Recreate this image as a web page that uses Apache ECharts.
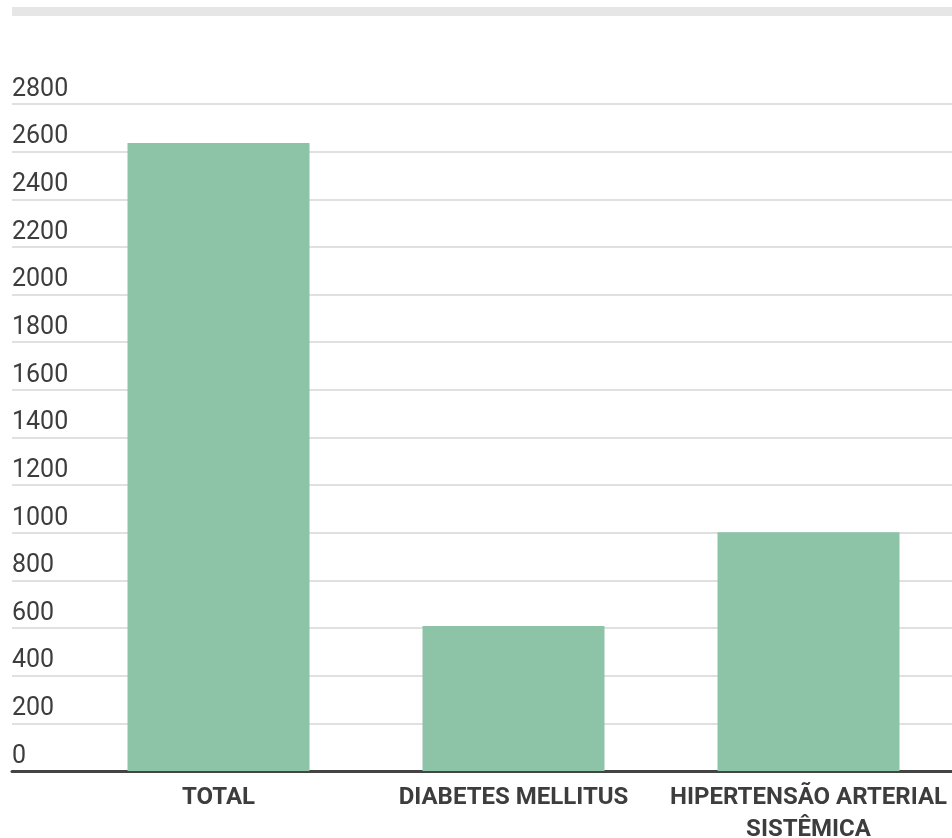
<!DOCTYPE html>
<html>
<head>
<meta charset="utf-8">
<script src="https://cdn.jsdelivr.net/npm/echarts@6/dist/echarts.min.js"></script>
<style>
  html, body { margin: 0; padding: 0; background: #fff; }
  #chart { width: 952px; height: 838px; }
</style>
</head>
<body>
<div id="chart"></div>
<script>
// categorias e valores
const categories = ['TOTAL', 'DIABETES MELLITUS', 'HIPERTENSÃO ARTERIAL\nSISTÊMICA']
const values = [2636, 609, 1002]
const yMin = 0
const yMax = 2800
const yStep = 200

const chart = echarts.init(document.getElementById('chart'))

chart.setOption({
  animation: false,
  textStyle: { fontFamily: 'Roboto' },
  graphic: [
    // barra cinza do topo
    { type: 'rect', left: 12, top: 7, shape: { width: 940, height: 9 }, style: { fill: '#e6e6e6' } }
  ],
  grid: [
    // grade larga: linhas de referência e rótulos do eixo y
    { left: 12, right: 0, top: 104, bottom: 67, outerBoundsMode: 'none', containLabel: false },
    // grade das barras
    { left: 71, right: -4, top: 104, bottom: 67, outerBoundsMode: 'none', containLabel: false }
  ],
  xAxis: [
    {
      type: 'category',
      gridIndex: 0,
      data: [''],
      axisLine: { show: true, lineStyle: { color: '#444', width: 3 } },
      axisTick: { show: false },
      axisLabel: { show: false }
    },
    {
      type: 'category',
      gridIndex: 1,
      data: categories,
      axisLine: { show: false },
      axisTick: { show: false },
      axisLabel: {
        interval: 0,
        margin: 11,
        color: '#3d3d3d',
        fontSize: 24,
        fontWeight: 'bold',
        lineHeight: 32
      }
    }
  ],
  yAxis: [
    {
      type: 'value',
      gridIndex: 0,
      min: yMin,
      max: yMax,
      interval: yStep,
      axisLine: { show: false },
      axisTick: { show: false },
      axisLabel: {
        inside: true,
        margin: 0,
        color: '#3d3d3d',
        fontSize: 25,
        lineHeight: 25,
        verticalAlign: 'bottom',
        padding: [0, 0, 2, 0],
        formatter: v => String(v)
      },
      splitLine: { lineStyle: { color: '#e0e0e0', width: 2 } }
    },
    {
      type: 'value',
      gridIndex: 1,
      min: yMin,
      max: yMax,
      interval: yStep,
      show: false,
      splitLine: { show: false }
    }
  ],
  series: [
    {
      type: 'bar',
      xAxisIndex: 1,
      yAxisIndex: 1,
      data: values,
      barWidth: 182,
      itemStyle: { color: '#8dc3a7' }
    }
  ]
})
</script>
</body>
</html>
